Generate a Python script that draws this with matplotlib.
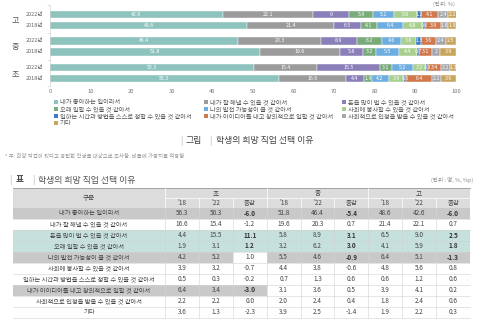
import matplotlib
matplotlib.use("Agg")
import matplotlib.pyplot as plt
from matplotlib.patches import Rectangle

plt.rcParams['font.family'] = ['Noto Sans CJK KR', 'DejaVu Sans']

# ---------- data ----------
reasons = [
    "내가 좋아하는 일이라서",
    "내가 잘 해낼 수 있을 것 같아서",
    "돈을 많이 벌 수 있을 것 같아서",
    "오래 일할 수 있을 것 같아서",
    "나의 발전 가능성이 클 것 같아서",
    "사회에 봉사할 수 있을 것 같아서",
    "일하는 시간과 방법을 스스로 정할 수 있을 것 같아서",
    "내가 아이디어를 내고 창의적으로 일할 것 같아서",
    "사회적으로 인정을 받을 수 있을 것 같아서",
    "기타",
]
colors = ["#8ec3bd", "#9b9b9b", "#8a7fb9", "#79ab7b", "#6eade0",
          "#a8cf8e", "#3d7bc2", "#d0794d", "#a6a6ae", "#c8a55c"]

elem_2018 = [56.3, 16.6, 4.4, 1.9, 4.2, 3.9, 0.5, 6.4, 2.2, 3.6]
elem_2022 = [50.3, 15.4, 15.5, 3.1, 5.2, 3.2, 0.3, 3.4, 2.2, 1.3]
elem_diff = [-6.0, -1.2, 11.1, 1.2, 1.0, -0.7, -0.2, -3.0, 0.0, -2.3]
mid_2018 = [51.8, 19.6, 5.8, 3.2, 5.5, 4.4, 0.7, 3.1, 2.0, 3.9]
mid_2022 = [46.4, 20.3, 8.9, 6.2, 4.6, 3.8, 1.3, 3.6, 2.4, 2.5]
mid_diff = [-5.4, 0.7, 3.1, 3.0, -0.9, -0.6, 0.6, 0.5, 0.4, -1.4]
high_2018 = [48.6, 21.4, 6.5, 4.1, 6.4, 4.8, 0.6, 3.9, 1.8, 1.9]
high_2022 = [42.6, 22.1, 9.0, 5.9, 5.1, 5.6, 1.2, 4.1, 2.4, 2.2]
high_diff = [-6.0, 0.7, 2.5, 1.8, -1.3, 0.8, 0.6, 0.2, 0.6, 0.3]

schools = ["고", "중", "초"]
years = ["2022년", "2018년"]
bar_rows = [high_2022, high_2018, mid_2022, mid_2018, elem_2022, elem_2018]
bar_y = [0, 1, 2.45, 3.45, 4.9, 5.9]
xticks = [0, 10, 20, 30, 40, 50, 60, 70, 80, 90, 100]

W, H = 479, 320
fig = plt.figure(figsize=(W / 100, H / 100), dpi=100)

# ============================================================
# stacked bar chart
# ============================================================
ax = fig.add_axes([50 / W, 1 - 86 / H, 406 / W, 81 / H])
for y, vals in zip(bar_y, bar_rows):
    left = 0.0
    for v, c in zip(vals, colors):
        ax.barh(y, v, left=left, height=0.64, color=c, edgecolor="white", linewidth=0.3)
        ax.text(left + v / 2, y, f"{v:g}", ha="center", va="center",
                fontsize=3.8, color="white")
        left += v

ax.set_xlim(0, 100)
ax.set_ylim(6.54, -0.82)
ax.set_xticks(xticks)
ax.tick_params(axis="x", length=0, pad=2, labelsize=4.2, labelcolor="#777777")
ax.set_yticks([-0.82, 1.72, 4.18, 6.54], labels=[])
ax.tick_params(axis="y", length=2, width=0.4, color="#c8c8c8")
for s in ["top", "right", "bottom"]:
    ax.spines[s].set_visible(False)
ax.spines["left"].set_color("#c8c8c8")
ax.spines["left"].set_linewidth(0.4)

ytr = ax.get_yaxis_transform()
for i, y in enumerate(bar_y):
    ax.text(-0.017, y, years[i % 2], transform=ytr, ha="right", va="center",
            fontsize=4.0, color="#666666")
for g, yc in zip(schools, [0.5, 2.95, 5.4]):
    ax.text(-0.086, yc, g, transform=ytr, ha="center", va="center",
            fontsize=5.8, color="#555555")

# ============================================================
# overlay in pixel coordinates: legend, titles, table
# ============================================================
ov = fig.add_axes([0, 0, 1, 1])
ov.set_xlim(0, W)
ov.set_ylim(H, 0)
ov.axis("off")

ov.text(455, 4, "(단위: %)", ha="right", va="center", fontsize=4.0, color="#888888")

# legend (row-major, 3 columns)
leg_x = [54, 204, 342]
leg_y = [102, 109, 116, 123]
for i, (lab, c) in enumerate(zip(reasons, colors)):
    r, k = divmod(i, 3)
    ov.add_patch(Rectangle((leg_x[k], leg_y[r] - 2), 4, 4, color=c, lw=0))
    ov.text(leg_x[k] + 6, leg_y[r], lab, ha="left", va="center",
            fontsize=4.5, color="#555555")

# figure title
ov.text(181, 141, "|", ha="center", va="center", fontsize=6.5, color="#bbbbbb")
ov.text(186, 141, "그림", ha="left", va="center", fontsize=6.4, color="#444444")
ov.text(210, 141, "|", ha="center", va="center", fontsize=6.5, color="#bbbbbb")
ov.text(216, 141, "학생의 희망 직업 선택 이유", ha="left", va="center",
        fontsize=6.4, color="#444444")

ov.text(5, 156, "* 주: 희망 직업이 있다고 응답한 학생을 대상으로 조사함. 비율에 가중치를 적용함",
        ha="left", va="center", fontsize=3.9, color="#999999")

# table title
ov.text(10, 180, "|", ha="center", va="center", fontsize=6.5, color="#bbbbbb")
ov.text(16, 180, "표", ha="left", va="center", fontsize=6.2, color="#444444",
        fontweight="bold")
ov.text(33, 180, "|", ha="center", va="center", fontsize=6.5, color="#bbbbbb")
ov.text(38, 180, "학생의 희망 직업 선택 이유", ha="left", va="center",
        fontsize=6.4, color="#555555")
ov.text(473, 180, "(단위 : 명, %, %p)", ha="right", va="center", fontsize=4.0,
        color="#888888")

# table
name_l, name_r = 13, 165
col_w = 33.9
top, h1, h2 = 188, 198, 207.5
row_h = 11
ncols = 9
right = name_r + ncols * col_w
hdr_bg = "#dcdcdc"
gray_bg = "#c9c9c9"
teal_bg = "#c6e0dd"
txt = "#444444"
line_c = "#d2d2d2"

ov.add_patch(Rectangle((name_l, top), right - name_l, h2 - top, color=hdr_bg, lw=0))
ov.plot([name_l, right], [top, top], color="#9a9a9a", lw=0.6)
ov.text((name_l + name_r) / 2, (top + h2) / 2, "구분", ha="center", va="center",
        fontsize=4.8, color=txt)
sub = ["'18", "'22", "증감"]
for g, school in enumerate(["초", "중", "고"]):
    x0 = name_r + 3 * g * col_w
    ov.text(x0 + 1.5 * col_w, (top + h1) / 2, school, ha="center", va="center",
            fontsize=4.8, color=txt)
    ov.plot([x0, x0], [top, h2], color="white", lw=0.5)
    for j in range(3):
        xc = x0 + (j + 0.5) * col_w
        ov.text(xc, (h1 + h2) / 2, sub[j], ha="center", va="center",
                fontsize=4.6, color=txt)
        if j > 0:
            ov.plot([x0 + j * col_w, x0 + j * col_w], [h1, h2], color="white", lw=0.5)
ov.plot([name_r, right], [h1, h1], color="white", lw=0.5)

table_rows = []
for i in range(len(reasons)):
    table_rows.append([elem_2018[i], elem_2022[i], elem_diff[i],
                       mid_2018[i], mid_2022[i], mid_diff[i],
                       high_2018[i], high_2022[i], high_diff[i]])

# cell highlight: None / "gray" / "teal" for name column and 9 value columns
highlight = {
    0: ["gray"] * 10,
    2: ["teal"] * 10,
    3: ["teal"] * 10,
    4: ["gray", "gray", "gray", None, "gray", "gray", "gray", "gray", "gray", "gray"],
    7: ["gray", "gray", "gray", "gray"] + [None] * 6,
}
bg_map = {"gray": gray_bg, "teal": teal_bg}

for i, (lab, vals) in enumerate(zip(reasons, table_rows)):
    y0 = h2 + i * row_h
    yc = y0 + row_h / 2
    hl = highlight.get(i, [None] * 10)
    if hl[0]:
        ov.add_patch(Rectangle((name_l, y0), name_r - name_l, row_h,
                               color=bg_map[hl[0]], lw=0))
    ov.text((name_l + name_r) / 2, yc, lab, ha="center", va="center",
            fontsize=4.5, color=txt)
    for j, v in enumerate(vals):
        x0 = name_r + j * col_w
        if hl[j + 1]:
            ov.add_patch(Rectangle((x0, y0), col_w, row_h,
                                   color=bg_map[hl[j + 1]], lw=0))
        bold = (j % 3 == 2) and hl[j + 1] is not None
        ov.text(x0 + col_w / 2, yc, f"{v:.1f}", ha="center", va="center",
                fontsize=4.6, color="#333333" if bold else txt,
                fontweight="bold" if bold else "normal")
    ov.plot([name_l, right], [y0 + row_h, y0 + row_h], color=line_c, lw=0.4)

body_bottom = h2 + len(reasons) * row_h
for j in range(ncols):
    x = name_r + j * col_w
    ov.plot([x, x], [h2, body_bottom], color=line_c, lw=0.4)

fig.savefig("out.png", dpi=100)
